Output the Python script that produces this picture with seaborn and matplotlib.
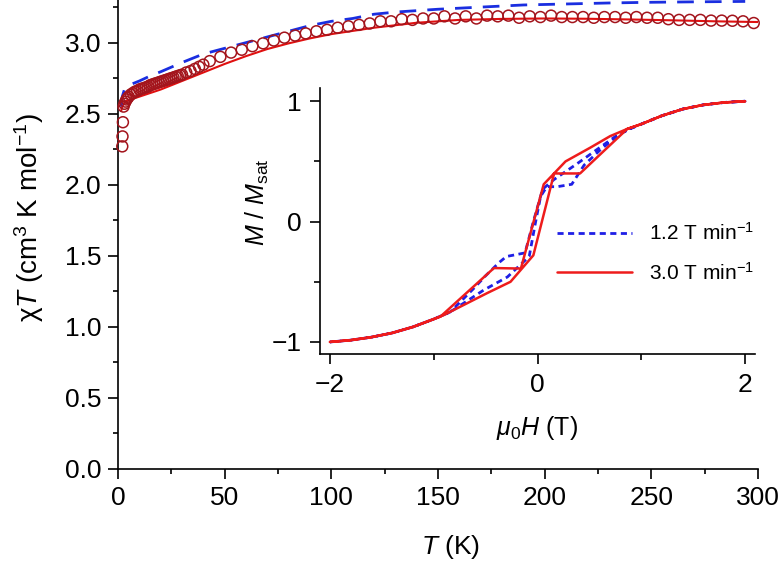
import numpy as np
import pandas as pd
import matplotlib
matplotlib.use("Agg")
import matplotlib.pyplot as plt
from matplotlib.ticker import MultipleLocator
import seaborn as sns

# chi*T data (circles)
T_data = [2.0, 2.1, 2.3,
          2.6, 3, 3.5, 4, 4.5, 5, 6, 7, 8, 9, 10, 11, 12, 13, 14, 15, 16, 17, 18, 19,
          20, 21, 22, 23, 24, 25, 26, 27, 28, 29, 30, 32, 34, 36, 38, 40,
          43, 48, 53, 58, 63, 68, 73, 78, 83, 88, 93, 98, 103, 108, 113, 118, 123, 128,
          133, 138, 143, 148, 153, 158, 163, 168, 173, 178, 183, 188, 193, 198, 203, 208,
          213, 218, 223, 228, 233, 238, 243, 248, 253, 258, 263, 268, 273, 278, 283, 288,
          293, 298]
chiT_data = [2.27, 2.34, 2.44,
             2.55, 2.57, 2.585, 2.60, 2.61, 2.62, 2.635, 2.645, 2.655, 2.66, 2.67, 2.675,
             2.68, 2.685, 2.69, 2.70, 2.705, 2.71, 2.715, 2.72, 2.725, 2.73, 2.735, 2.74,
             2.745, 2.75, 2.755, 2.76, 2.765, 2.77, 2.775, 2.79, 2.80, 2.815, 2.83, 2.845,
             2.87, 2.90, 2.93, 2.95, 2.975, 2.995, 3.015, 3.035, 3.05, 3.065, 3.08, 3.09,
             3.105, 3.115, 3.125, 3.135, 3.15, 3.15, 3.165, 3.16, 3.17, 3.17, 3.185, 3.17,
             3.185, 3.17, 3.19, 3.185, 3.19, 3.175, 3.185, 3.18, 3.19, 3.18, 3.18, 3.18,
             3.175, 3.18, 3.18, 3.175, 3.18, 3.175, 3.175, 3.165, 3.16, 3.16, 3.16, 3.155,
             3.155, 3.154, 3.15, 3.138]

# red solid fit
T_fit1 = [1.5, 2, 3, 4, 6, 8, 10, 15, 20, 30, 40, 50, 60, 70, 80, 90, 100, 120, 140,
          160, 180, 200, 220, 240, 260, 280, 300]
chiT_fit1 = [2.52, 2.55, 2.575, 2.59, 2.6, 2.61, 2.62, 2.645, 2.67, 2.73, 2.79,
             2.85, 2.905, 2.955, 2.995, 3.03, 3.06, 3.105, 3.14, 3.16, 3.167, 3.17,
             3.168, 3.163, 3.157, 3.15, 3.145]

# blue dashed fit
T_fit2 = [1.5, 2, 3, 5, 10, 15, 20, 30, 40, 50, 60, 70, 80, 90, 100, 110, 120, 130,
          150, 170, 190, 210, 230, 250, 270, 294]
chiT_fit2 = [2.55, 2.62, 2.67, 2.70, 2.73, 2.765, 2.795, 2.86, 2.92, 2.96, 3.0, 3.04,
             3.08, 3.12, 3.15, 3.17, 3.20, 3.215, 3.235, 3.25, 3.265, 3.272, 3.279,
             3.284, 3.287, 3.29]

# hysteresis loops, 1.2 T/min (blue) : up sweep then down sweep
H_blue_up = [-2.0, -1.8, -1.6, -1.4, -1.2, -1.0, -0.84, -0.52, -0.29, -0.08, -0.02, 0.03,
             0.09, 0.19, 0.33, 0.45, 0.61, 0.80, 0.9, 1.0, 1.2, 1.4, 1.6, 1.8, 2.0]
M_blue_up = [-1.0, -0.985, -0.96, -0.925, -0.875, -0.81, -0.75, -0.57, -0.46, -0.29, -0.01,
             0.21, 0.29, 0.29, 0.31, 0.47, 0.60, 0.73, 0.775, 0.81, 0.88, 0.935, 0.97, 0.99, 1.0]
H_blue_down = [2.0, 1.8, 1.6, 1.4, 1.2, 1.0, 0.9, 0.78, 0.575, 0.38, 0.16, 0.05, -0.04,
               -0.12, -0.30, -0.37, -0.5, -0.62, -0.84, -1.0, -1.2, -1.4, -1.6, -1.8, -2.0]
M_blue_down = [1.0, 0.99, 0.97, 0.935, 0.88, 0.81, 0.775, 0.725, 0.6, 0.48, 0.35, 0.27, 0.0,
               -0.26, -0.29, -0.34, -0.45, -0.56, -0.75, -0.81, -0.875, -0.925, -0.96, -0.985, -1.0]

# 3.0 T/min (red)
H_red_up = [-2.0, -1.8, -1.6, -1.4, -1.2, -1.0, -0.9, -0.485, -0.26, -0.04, 0.16, 0.41,
            0.6, 0.865, 1.0, 1.2, 1.4, 1.6, 1.8, 2.0]
M_red_up = [-1.0, -0.985, -0.96, -0.925, -0.875, -0.81, -0.775, -0.594, -0.50, -0.28, 0.40,
            0.40, 0.555, 0.77, 0.81, 0.88, 0.935, 0.97, 0.99, 1.0]
H_red_down = [2.0, 1.8, 1.6, 1.4, 1.2, 1.0, 0.865, 0.70, 0.51, 0.27, 0.06, -0.16, -0.42,
              -0.935, -1.0, -1.2, -1.4, -1.6, -1.8, -2.0]
M_red_down = [1.0, 0.99, 0.97, 0.935, 0.88, 0.81, 0.77, 0.71, 0.615, 0.50, 0.31, -0.39,
              -0.386, -0.789, -0.81, -0.875, -0.925, -0.96, -0.985, -1.0]

sns.set_theme(style="ticks")
plt.rcParams["font.family"] = ["Liberation Sans", "DejaVu Sans"]
plt.rcParams["mathtext.fontset"] = "custom"
plt.rcParams["mathtext.rm"] = "Liberation Sans"
plt.rcParams["mathtext.it"] = "Liberation Sans:italic"
plt.rcParams["axes.linewidth"] = 1.2
plt.rcParams["text.color"] = "black"
plt.rcParams["axes.labelcolor"] = "black"
plt.rcParams["axes.edgecolor"] = "black"
plt.rcParams["xtick.color"] = "black"
plt.rcParams["ytick.color"] = "black"

fig = plt.figure(figsize=(7.81, 5.66), dpi=100)
ax = fig.add_axes([118 / 781, 97 / 566, 640 / 781, 469 / 566])

sns.lineplot(x=T_fit1, y=chiT_fit1, ax=ax, color="#e01010", linewidth=1.5,
             sort=False, estimator=None)
sns.lineplot(x=T_fit2, y=chiT_fit2, ax=ax, color="#1a2ee0", linewidth=2.0,
             sort=False, estimator=None)
ax.lines[-1].set_dashes([6, 4])
sns.scatterplot(x=T_data, y=chiT_data, ax=ax, marker="o", s=62, facecolor="none",
                edgecolor="#a3141c", linewidth=1.1, clip_on=False, zorder=3)

ax.set_xlim(0, 300)
ax.set_ylim(0, 3.3)
ax.xaxis.set_major_locator(MultipleLocator(50))
ax.xaxis.set_minor_locator(MultipleLocator(25))
ax.yaxis.set_major_locator(MultipleLocator(0.5))
ax.yaxis.set_minor_locator(MultipleLocator(0.25))
ax.yaxis.set_major_formatter(lambda v, p: f"{v:.1f}")
ax.tick_params(which="major", length=7, width=1.2, labelsize=19, pad=5)
ax.tick_params(which="minor", length=3.5, width=1.2)
sns.despine(ax=ax)
ax.set_xlabel(r"$\mathit{T}$ (K)", fontsize=19)
ax.set_ylabel(r"χ$\mathit{T}$ (cm$^{3}$ K mol$^{-1}$)", fontsize=20)
ax.xaxis.set_label_coords(0.52, -0.137)
ax.yaxis.set_label_coords(-0.112, 0.536)

# inset
ins = fig.add_axes([320 / 781, 212 / 566, 435 / 781, 266 / 566])
ins.patch.set_alpha(0)
blue_df = pd.DataFrame({"H": H_blue_up + H_blue_down, "M": M_blue_up + M_blue_down})
red_df = pd.DataFrame({"H": H_red_up + H_red_down, "M": M_red_up + M_red_down})
sns.lineplot(data=blue_df, x="H", y="M", ax=ins, color="#1f1fe6", linewidth=2.0,
             sort=False, estimator=None, label="1.2 T min$^{-1}$")
ins.lines[-1].set_dashes([2.2, 1.6])
sns.lineplot(data=red_df, x="H", y="M", ax=ins, color="#ee1c1c", linewidth=1.8,
             sort=False, estimator=None, label="3.0 T min$^{-1}$")

ins.set_xlim(-2.096, 2.096)
ins.set_ylim(-1.1, 1.11)
ins.xaxis.set_major_locator(MultipleLocator(2))
ins.xaxis.set_minor_locator(MultipleLocator(1))
ins.yaxis.set_major_locator(MultipleLocator(1))
ins.yaxis.set_minor_locator(MultipleLocator(0.5))
ins.tick_params(which="major", length=7.5, width=1.2, labelsize=19, pad=6)
ins.tick_params(which="minor", length=4, width=1.2)
sns.despine(ax=ins)
ins.set_xlabel(r"$\mu_0\mathit{H}$ (T)", fontsize=18)
ins.set_ylabel(r"$\mathit{M}$ / $\mathit{M}_{\mathrm{sat}}$", fontsize=18)
ins.xaxis.set_label_coords(0.5, -0.225)
ins.yaxis.set_label_coords(-0.112, 0.571)
ins.legend(loc="center left", bbox_to_anchor=(0.545, 0.38), frameon=False,
           fontsize=15, handlelength=3.6, handletextpad=0.8, labelspacing=0.85,
           borderpad=0, borderaxespad=0)

fig.savefig("out.png", dpi=100)
